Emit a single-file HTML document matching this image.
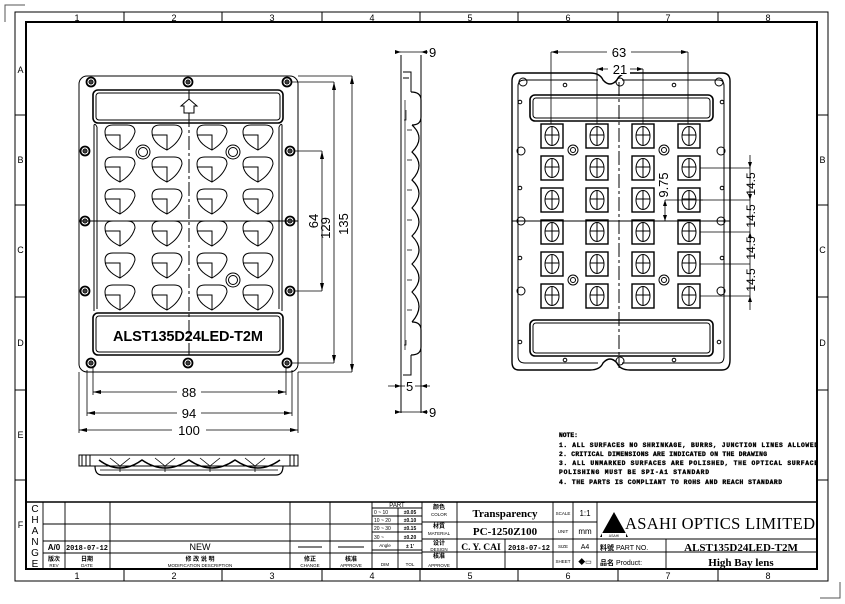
<!DOCTYPE html>
<html><head><meta charset="utf-8"><style>
html,body{margin:0;padding:0;background:#fff;}
svg{display:block;font-family:"Liberation Sans","Noto Sans CJK SC",sans-serif;}
.s{font-family:"Liberation Serif","Noto Serif CJK SC",serif;font-weight:bold;}
.m{font-family:"Liberation Mono","Noto Sans CJK SC",monospace;font-weight:bold;}
</style></head><body>
<svg width="845" height="604" viewBox="0 0 845 604" xmlns="http://www.w3.org/2000/svg" fill="none" stroke="#000" stroke-width="1">
<defs>
 <g id="lens">
  <path d="M-15,-6 Q-15,-13 -7,-13 L7,-13 Q15,-13 15,-6 Q12,5 0,12 Q-15,5 -15,-6 Z"/>
  <path d="M-15,-3 L0,-3 L0,12"/>
 </g>
 <g id="sq">
  <rect x="-11" y="-12" width="22" height="24" stroke-width="1.4"/>
  <ellipse cx="0" cy="0" rx="7" ry="9.5"/>
  <path d="M-7,-1 H7 M0,-9.5 V9.5"/>
 </g>
 <g id="hole"><circle r="4.5" stroke-width="1.8"/><circle r="2"/><path d="M-2,0H2M0,-2V2"/></g>
</defs>
<!-- corner marks -->
<path d="M5,22 V5 H25 M840,582 V598 H820" stroke="#555"/>
<!-- frame -->
<rect x="15" y="12" width="813" height="569"/>
<rect x="26" y="22" width="791" height="547" stroke-width="2"/>
<path d="M124,12V22 M222,12V22 M322,12V22 M420,12V22 M518,12V22 M618,12V22 M718,12V22"/>
<path d="M124,569V581 M222,569V581 M322,569V581 M420,569V581 M518,569V581 M618,569V581 M718,569V581"/>
<path d="M15,115H26 M15,205H26 M15,297H26 M15,390H26 M15,480H26 M817,115H828 M817,205H828 M817,297H828 M817,390H828 M817,480H828"/>
<g fill="#000" stroke="none" font-size="9" text-anchor="middle">
 <text x="77" y="21">1</text><text x="174" y="21">2</text><text x="272" y="21">3</text><text x="372" y="21">4</text><text x="470" y="21">5</text><text x="568" y="21">6</text><text x="668" y="21">7</text><text x="768" y="21">8</text>
 <text x="77" y="579">1</text><text x="174" y="579">2</text><text x="272" y="579">3</text><text x="372" y="579">4</text><text x="470" y="579">5</text><text x="568" y="579">6</text><text x="668" y="579">7</text><text x="768" y="579">8</text>
 <text x="20.5" y="73">A</text><text x="20.5" y="163">B</text><text x="20.5" y="253">C</text><text x="20.5" y="346">D</text><text x="20.5" y="438">E</text><text x="20.5" y="528">F</text>
 <text x="822.5" y="163">B</text><text x="822.5" y="253">C</text><text x="822.5" y="346">D</text>
</g>

<!-- LEFT FRONT VIEW -->
<rect x="79" y="76" width="219" height="296" rx="8"/>
<rect x="93" y="90" width="190" height="33" rx="5" stroke-width="1.6"/>
<rect x="96" y="93" width="184" height="27" rx="3"/>
<rect x="93" y="313" width="190" height="42" rx="5" stroke-width="1.6"/>
<rect x="96" y="316" width="184" height="36" rx="3"/>
<path d="M94,125 V311 M97,127 V309 M282,125 V311 M279,127 V309 M94,125 Q95,123 97,127 M282,125 Q281,123 279,127"/>
<path d="M189,90 V355" stroke-dasharray="14,3,3,3"/>
<path d="M79,221 H298"/>
<path d="M184,113 V106 H181 L189,99 L197,106 H194 V113 Z" fill="#fff"/>
<g>
 <use href="#hole" x="91" y="82"/><use href="#hole" x="188" y="82"/><use href="#hole" x="287" y="82"/>
 <use href="#hole" x="91" y="363"/><use href="#hole" x="188" y="363"/><use href="#hole" x="287" y="363"/>
 <use href="#hole" x="85" y="151"/><use href="#hole" x="85" y="221"/><use href="#hole" x="85" y="291"/>
 <use href="#hole" x="290" y="151"/><use href="#hole" x="290" y="221"/><use href="#hole" x="290" y="291"/>
</g>
<g>
 <use href="#lens" x="120" y="138"/><use href="#lens" x="167" y="138"/><use href="#lens" x="212" y="138"/><use href="#lens" x="258" y="138"/>
 <use href="#lens" x="120" y="170"/><use href="#lens" x="167" y="170"/><use href="#lens" x="212" y="170"/><use href="#lens" x="258" y="170"/>
 <use href="#lens" x="120" y="202"/><use href="#lens" x="167" y="202"/><use href="#lens" x="212" y="202"/><use href="#lens" x="258" y="202"/>
 <use href="#lens" x="120" y="234"/><use href="#lens" x="167" y="234"/><use href="#lens" x="212" y="234"/><use href="#lens" x="258" y="234"/>
 <use href="#lens" x="120" y="266"/><use href="#lens" x="167" y="266"/><use href="#lens" x="212" y="266"/><use href="#lens" x="258" y="266"/>
 <use href="#lens" x="120" y="298"/><use href="#lens" x="167" y="298"/><use href="#lens" x="212" y="298"/><use href="#lens" x="258" y="298"/>
</g>
<circle cx="143" cy="152" r="7" fill="#fff"/><circle cx="143" cy="152" r="4.5"/>
<circle cx="233" cy="152" r="7" fill="#fff"/><circle cx="233" cy="152" r="4.5"/>
<circle cx="233" cy="280" r="7" fill="#fff"/><circle cx="233" cy="280" r="4.5"/>
<text x="188" y="341" font-size="14.5" font-weight="bold" fill="#000" stroke="none" text-anchor="middle" textLength="150">ALST135D24LED-T2M</text>
<!-- left view dims -->
<g stroke-width="0.8">
 <path d="M294,151 H322 M322,151 V291 M294,291 H322"/>
 <path d="M292,82 H334 M334,82 V363 M292,363 H334"/>
 <path d="M298,76 H352 M352,76 V372 M298,372 H352"/>
 <path d="M93,367 V395 M286,367 V395 M93,392 H286"/>
 <path d="M87,370 V416 M292,370 V416 M87,413 H292"/>
 <path d="M79,372 V433 M298,372 V433 M79,430 H298"/>
</g>
<g fill="#000" stroke="none">
 <path d="M322,151 l-2,8 h4z M322,291 l-2,-8 h4z M334,82 l-2,8 h4z M334,363 l-2,-8 h4z M352,76 l-2,8 h4z M352,372 l-2,-8 h4z"/>
 <path d="M93,392 l8,-2 v4z M286,392 l-8,-2 v4z M87,413 l8,-2 v4z M292,413 l-8,-2 v4z M79,430 l8,-2 v4z M298,430 l-8,-2 v4z"/>
</g>
<g fill="#000" stroke="none" font-size="13" text-anchor="middle">
 <text transform="translate(318,221) rotate(-90)">64</text>
 <text transform="translate(330,228) rotate(-90)">129</text>
 <text transform="translate(348,224) rotate(-90)">135</text>
 <rect x="177" y="385" width="24" height="12" fill="#fff"/><text x="189" y="397">88</text>
 <rect x="177" y="406" width="24" height="12" fill="#fff"/><text x="189" y="418">94</text>
 <rect x="172" y="423" width="34" height="12" fill="#fff"/><text x="189" y="435">100</text>
</g>
<!-- bottom side view -->
<rect x="79" y="455" width="219" height="11"/>
<path d="M82,455 V466 M86,455 V466 M90,455 V466 M294,455 V466 M290,455 V466"/>
<path d="M95,466 Q95,475 102,475 H276 Q283,475 283,466" stroke-width="1.2"/>
<path d="M99,460 Q120,476 142,460 Q165,476 189,460 Q212,476 235,460 Q258,476 280,460" stroke-width="1.5"/>
<path d="M100,470 H278 M110,458 L120,466 L130,458 M155,458 L165,466 L175,458 M200,458 L210,466 L220,458 M245,458 L255,466 L265,458 M120,466 V472 M165,466 V472 M210,466 V472 M255,466 V472" stroke-width="0.8"/>

<!-- MIDDLE SIDE VIEW -->
<path d="M401,55 V413 M421,55 V413"/>
<path d="M403,72 H411 V92 M403,78 H409 M403,375 H411 V355"/>
<path d="M411,92 Q421,92 421,100 V117 Q421,125 412,125 M411,355 Q421,355 421,347 V330 Q421,322 412,322" stroke-width="1.2"/>
<path d="M412,125 Q426,138 412,152 Q426,165 412,180 Q426,193 412,208 Q426,222 412,236 Q426,250 412,264 Q426,278 412,292 Q426,306 412,322" stroke-width="1.2"/>
<path d="M405,100 V350 M407,130 H412 M407,160 H412 M407,190 H412 M407,220 H412 M407,250 H412 M407,280 H412 M407,310 H412" stroke-width="0.7"/>
<path d="M406,110 V120 H404 M406,340 V345 H404" stroke-width="0.7"/>
<g stroke-width="0.8"><path d="M395,52 H428 M395,412 H428 M388,386 H430"/></g>
<g fill="#000" stroke="none">
 <path d="M401,52 l-6,-2 v4z M421,52 l6,-2 v4z M401,412 l-6,-2 v4z M421,412 l6,-2 v4z M401,386 l-6,-2 v4z M421,386 l6,-2 v4z"/>
 <text x="429" y="57" font-size="13">9</text><text x="429" y="417" font-size="13">9</text>
 <rect x="405" y="379" width="10" height="13" fill="#fff"/><text x="406" y="391" font-size="13">5</text>
</g>

<!-- RIGHT VIEW (back) -->
<path d="M519,73 H590 Q600,73 603,80 Q610,88 617,80 Q620,73 630,73 H722 Q730,73 730,81 V360 Q730,370 722,370 H630 Q620,370 617,363 Q610,355 603,363 Q600,370 590,370 H519 Q512,370 512,362 V81 Q512,73 519,73 Z" stroke-width="1.4"/>
<path d="M525,80 H598 M622,80 H719 Q724,80 724,86 V356 Q724,363 719,363 H622 M598,363 H525 Q518,363 518,356 V86 Q518,80 525,80"/>
<rect x="530" y="95" width="183" height="26" rx="5" stroke-width="1.6"/><rect x="533" y="98" width="177" height="20" rx="3"/>
<rect x="530" y="320" width="183" height="36" rx="5" stroke-width="1.6"/><rect x="533" y="323" width="177" height="30" rx="3"/>
<path d="M619,82 V368" stroke-dasharray="14,3,3,3"/>
<path d="M512,221 H730"/>
<circle cx="620" cy="82" r="4"/><circle cx="620" cy="361" r="4"/>
<circle cx="523" cy="82" r="4"/><circle cx="719" cy="82" r="4"/>
<circle cx="521" cy="151" r="4"/><circle cx="721" cy="151" r="4"/><circle cx="521" cy="221" r="4"/><circle cx="721" cy="221" r="4"/><circle cx="521" cy="291" r="4"/><circle cx="721" cy="291" r="4"/>
<circle cx="565" cy="85" r="1.8"/><circle cx="674" cy="85" r="1.8"/><circle cx="520" cy="102" r="1.8"/><circle cx="722" cy="102" r="1.8"/>
<circle cx="520" cy="188" r="1.8"/><circle cx="722" cy="188" r="1.8"/><circle cx="520" cy="258" r="1.8"/><circle cx="722" cy="258" r="1.8"/>
<circle cx="520" cy="342" r="1.8"/><circle cx="719" cy="342" r="1.8"/><circle cx="565" cy="360" r="1.8"/><circle cx="674" cy="360" r="1.8"/>
<circle cx="573" cy="150" r="5"/><circle cx="573" cy="150" r="2.5"/><circle cx="664" cy="150" r="5"/><circle cx="664" cy="150" r="2.5"/>
<circle cx="573" cy="280" r="5"/><circle cx="573" cy="280" r="2.5"/><circle cx="664" cy="280" r="5"/><circle cx="664" cy="280" r="2.5"/>
<g>
 <use href="#sq" x="552" y="136"/><use href="#sq" x="597" y="136"/><use href="#sq" x="643" y="136"/><use href="#sq" x="689" y="136"/>
 <use href="#sq" x="552" y="168"/><use href="#sq" x="597" y="168"/><use href="#sq" x="643" y="168"/><use href="#sq" x="689" y="168"/>
 <use href="#sq" x="552" y="200"/><use href="#sq" x="597" y="200"/><use href="#sq" x="643" y="200"/><use href="#sq" x="689" y="200"/>
 <use href="#sq" x="552" y="232"/><use href="#sq" x="597" y="232"/><use href="#sq" x="643" y="232"/><use href="#sq" x="689" y="232"/>
 <use href="#sq" x="552" y="264"/><use href="#sq" x="597" y="264"/><use href="#sq" x="643" y="264"/><use href="#sq" x="689" y="264"/>
 <use href="#sq" x="552" y="296"/><use href="#sq" x="597" y="296"/><use href="#sq" x="643" y="296"/><use href="#sq" x="689" y="296"/>
</g>
<!-- right view dims -->
<g stroke-width="0.8">
 <path d="M551,52 H688 M551,52 V124 M688,52 V124"/>
 <path d="M597,69 H643 M597,69 V124 M643,69 V124"/>
 <path d="M700,168 H750 M700,200 H750 M700,232 H750 M700,264 H750 M700,296 H750 M750,155 V310"/>
 <path d="M665,200 H703 M665,200 V221" />
</g>
<g fill="#000" stroke="none">
 <path d="M551,52 l7,-2 v4z M688,52 l-7,-2 v4z M597,69 l6,-2 v4z M643,69 l-6,-2 v4z M665,200 l-2,6 h4z M665,221 l-2,-6 h4z"/>
 <path d="M750,168 l-2,-6 h4z M750,296 l-2,6 h4z M750,200 l-2,-6 h4z M750,232 l-2,6 h4z"/>
 <rect x="607" y="45" width="24" height="13" fill="#fff"/><text x="619" y="57" font-size="13" text-anchor="middle">63</text>
 <rect x="608" y="62" width="22" height="13" fill="#fff"/><text x="620" y="74" font-size="13" text-anchor="middle">21</text>
 <text transform="translate(668,185) rotate(-90)" font-size="13" text-anchor="middle">9.75</text>
 <g font-size="12" text-anchor="middle">
  <text transform="translate(755,184) rotate(-90)">14.5</text>
  <text transform="translate(755,216) rotate(-90)">14.5</text>
  <text transform="translate(755,248) rotate(-90)">14.5</text>
  <text transform="translate(755,280) rotate(-90)">14.5</text>
 </g>
</g>

<!-- NOTES -->
<g class="m" fill="#000" stroke="#000" stroke-width="0.35" font-size="6.3">
 <text x="559" y="437">NOTE:</text>
 <text x="559" y="447" textLength="259">1. ALL SURFACES NO SHRINKAGE, BURRS, JUNCTION LINES ALLOWED</text>
 <text x="559" y="456" textLength="208">2. CRITICAL DIMENSIONS ARE INDICATED ON THE DRAWING</text>
 <text x="559" y="465" textLength="259">3. ALL UNMARKED SURFACES ARE POLISHED, THE OPTICAL SURFACE</text>
 <text x="559" y="474" textLength="150">POLISHING MUST BE SPI-A1 STANDARD</text>
 <text x="559" y="484" textLength="223">4. THE PARTS IS COMPLIANT TO ROHS AND REACH STANDARD</text>
</g>

<!-- TITLE BLOCK -->
<g stroke-width="0.9">
 <path d="M26,502 H817" stroke-width="1.4"/>
 <path d="M43,524 H422 M43,541 H372 M43,553 H422 M422,522 H597 M422,539 H597 M422,552 H817 M597,539 H817"/>
 <path d="M372,508 H422 M372,516 H422 M372,524 H422 M372,532 H422 M372,541 H422 M372,550 H422"/>
 <path d="M43,502 V569 M65,502 V569 M110,502 V569 M290,502 V569 M330,502 V569 M372,502 V569 M398,508 V569 M422,502 V569 M457,502 V569 M505,539 V569 M553,502 V569 M573,502 V569 M597,502 V569 M666,539 V569"/>
</g>
<g fill="#000" stroke="none">
 <g font-size="10" text-anchor="middle"><text x="35" y="512">C</text><text x="35" y="523">H</text><text x="35" y="534">A</text><text x="35" y="545">N</text><text x="35" y="556">G</text><text x="35" y="567">E</text></g>
 <text x="54" y="550" font-size="8" font-weight="bold" text-anchor="middle">A/0</text>
 <text x="87" y="550" class="m" font-size="7" text-anchor="middle">2018-07-12</text>
 <text x="200" y="550" font-size="9" text-anchor="middle">NEW</text>
 <path d="M298,547 H322 M338,547 H364" stroke="#000"/>
 <g font-size="6" font-weight="bold" text-anchor="middle">
  <text x="54" y="561">版次</text><text x="87" y="561">日期</text><text x="200" y="561">修 改 说 明</text><text x="310" y="561">修正</text><text x="351" y="561">核准</text><text x="439" y="509">颜色</text><text x="439" y="528">材質</text><text x="439" y="545">设计</text><text x="439" y="558">核准</text>
 </g>
 <g font-size="4.5" text-anchor="middle">
  <text x="54" y="567">REV</text><text x="87" y="567">DATE</text><text x="200" y="567">MODIFICATION  DESCRIPTION</text><text x="310" y="567">CHANGE</text><text x="351" y="567">APPROVE</text>
  <text x="439" y="516">COLOR</text><text x="439" y="535">MATERIAL</text><text x="439" y="551">DESIGN</text><text x="439" y="567">APPROVE</text>
  <text x="385" y="547">Angle</text><text x="385" y="566">DIM</text><text x="410" y="566">TOL</text>
  <text x="563" y="515">SCALE</text><text x="563" y="533">UNIT</text><text x="563" y="548">SIZE</text><text x="563" y="563">SHEET</text>
 </g>
 <text x="397" y="507" font-size="6" text-anchor="middle">PART</text>
 <g font-size="5"><text x="374" y="514">0 ~ 10</text><text x="374" y="522">10 ~ 20</text><text x="374" y="530">20 ~ 30</text><text x="374" y="539">30 ~</text></g>
 <g font-size="5" font-weight="bold" text-anchor="middle"><text x="410" y="514">±0.05</text><text x="410" y="522">±0.10</text><text x="410" y="530">±0.15</text><text x="410" y="539">±0.20</text><text x="410" y="548">± 1'</text></g>
 <text x="505" y="517" class="s" font-size="11" text-anchor="middle">Transparency</text>
 <text x="505" y="535" class="s" font-size="11" text-anchor="middle">PC-1250Z100</text>
 <text x="481" y="550" class="s" font-size="9.5" text-anchor="middle">C. Y. CAI</text>
 <text x="529" y="550" class="m" font-size="7" text-anchor="middle">2018-07-12</text>
 <text x="585" y="516" font-size="8" text-anchor="middle">1:1</text>
 <text x="585" y="534" font-size="8" text-anchor="middle">mm</text>
 <text x="585" y="549" font-size="7" text-anchor="middle">A4</text>
 <text x="585" y="564" font-size="7" text-anchor="middle">◆▭</text>
 <path d="M600,537 L614,512 L628,537 Z"/>
 <rect x="602" y="533" width="24" height="5" fill="#fff"/>
 <text x="614" y="537" font-size="3.5" text-anchor="middle">ASAHI</text>
 <text x="720" y="529" font-family="Liberation Serif,serif" font-size="16.5" text-anchor="middle" textLength="190">ASAHI OPTICS LIMITED</text>
 <text x="600" y="550" font-size="7"><tspan font-weight="bold">料號</tspan> PART  NO.</text>
 <text x="600" y="565" font-size="7"><tspan font-weight="bold">品名</tspan> Product:</text>
 <text x="741" y="551" class="s" font-size="11" text-anchor="middle">ALST135D24LED-T2M</text>
 <text x="741" y="566" class="s" font-size="11" text-anchor="middle">High Bay lens</text>
</g>
</svg>
</body></html>
